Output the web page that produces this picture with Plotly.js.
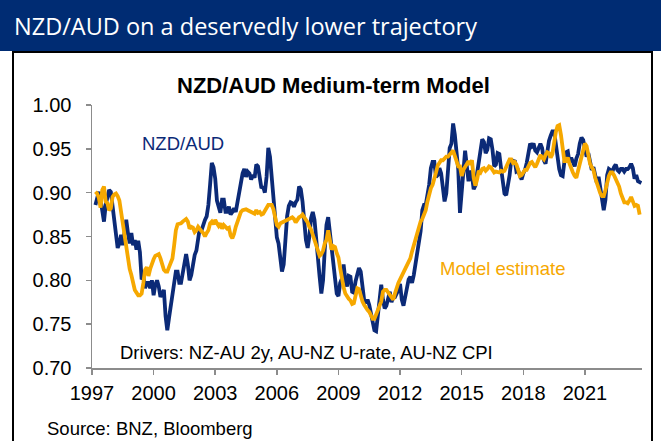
<!DOCTYPE html>
<html>
<head>
<meta charset="utf-8">
<script src="https://cdn.plot.ly/plotly-3.0.1.min.js"></script>
<style>
  html, body { margin: 0; padding: 0; background: #ffffff; }
  #chart { width: 661px; height: 441px; }
</style>
</head>
<body>
<div id="chart"></div>
<script>
// ---- data (monthly, first observation March 1997) ----
const startYear = 1997;
const startMonth = 3;

const nzdaud = [
  0.886, 0.892, 0.901, 0.892, 0.878, 0.867, 0.886, 0.897, 0.903, 0.901,
  0.886, 0.867, 0.857, 0.837, 0.842, 0.852, 0.840, 0.854, 0.869, 0.854,
  0.842, 0.854, 0.840, 0.846, 0.835, 0.845, 0.832, 0.801, 0.804, 0.791,
  0.797, 0.797, 0.791, 0.800, 0.783, 0.795, 0.800, 0.793, 0.781, 0.785,
  0.789, 0.759, 0.743, 0.757, 0.770, 0.787, 0.799, 0.810, 0.810, 0.797,
  0.797, 0.808, 0.823, 0.830, 0.818, 0.800, 0.806, 0.818, 0.829, 0.834,
  0.848, 0.860, 0.857, 0.865, 0.869, 0.873, 0.886, 0.909, 0.934, 0.929,
  0.916, 0.891, 0.882, 0.877, 0.892, 0.892, 0.878, 0.878, 0.884, 0.875,
  0.878, 0.882, 0.878, 0.890, 0.903, 0.909, 0.922, 0.927, 0.918, 0.924,
  0.922, 0.915, 0.920, 0.917, 0.932, 0.930, 0.920, 0.905, 0.907, 0.900,
  0.918, 0.951, 0.941, 0.918, 0.883, 0.863, 0.849, 0.842, 0.827, 0.810,
  0.818, 0.852, 0.873, 0.885, 0.889, 0.888, 0.884, 0.889, 0.892, 0.907,
  0.904, 0.890, 0.867, 0.846, 0.837, 0.850, 0.871, 0.878, 0.869, 0.844,
  0.823, 0.804, 0.785, 0.800, 0.835, 0.863, 0.872, 0.854, 0.835, 0.820,
  0.804, 0.785, 0.782, 0.797, 0.802, 0.818, 0.801, 0.793, 0.805, 0.804,
  0.787, 0.786, 0.799, 0.806, 0.814, 0.810, 0.791, 0.778, 0.774, 0.778,
  0.772, 0.762, 0.754, 0.743, 0.742, 0.763, 0.785, 0.795, 0.778, 0.768,
  0.771, 0.782, 0.787, 0.775, 0.781, 0.781, 0.785, 0.789, 0.796, 0.778,
  0.771, 0.782, 0.791, 0.801, 0.804, 0.797, 0.806, 0.818, 0.835, 0.844,
  0.856, 0.880, 0.886, 0.886, 0.897, 0.909, 0.928, 0.935, 0.935, 0.918,
  0.920, 0.928, 0.922, 0.901, 0.890, 0.899, 0.932, 0.951, 0.956, 0.979,
  0.966, 0.943, 0.926, 0.877, 0.896, 0.924, 0.948, 0.928, 0.913, 0.925,
  0.920, 0.904, 0.908, 0.922, 0.937, 0.953, 0.961, 0.958, 0.945, 0.949,
  0.962, 0.961, 0.949, 0.930, 0.932, 0.945, 0.944, 0.928, 0.913, 0.899,
  0.897, 0.908, 0.920, 0.938, 0.935, 0.937, 0.924, 0.925, 0.919, 0.915,
  0.922, 0.926, 0.934, 0.949, 0.956, 0.953, 0.956, 0.948, 0.946, 0.951,
  0.956, 0.951, 0.937, 0.933, 0.947, 0.959, 0.965, 0.970, 0.970, 0.954,
  0.937, 0.927, 0.920, 0.919, 0.935, 0.946, 0.947, 0.935, 0.940, 0.934,
  0.930, 0.939, 0.944, 0.956, 0.963, 0.960, 0.949, 0.941, 0.945, 0.934,
  0.926, 0.929, 0.920, 0.911, 0.918, 0.906, 0.892, 0.880, 0.892, 0.920,
  0.927, 0.926, 0.924, 0.929, 0.932, 0.926, 0.924, 0.927, 0.927, 0.924,
  0.927, 0.927, 0.929, 0.933, 0.928, 0.916, 0.920, 0.913, 0.912, 0.911
];

const modelEstimate = [
  0.901, 0.899, 0.894, 0.883, 0.903, 0.907, 0.890, 0.888, 0.880, 0.882,
  0.895, 0.898, 0.899, 0.896, 0.891, 0.878, 0.863, 0.846, 0.834, 0.822,
  0.813, 0.806, 0.795, 0.789, 0.786, 0.783, 0.783, 0.785, 0.797, 0.812,
  0.815, 0.805, 0.813, 0.820, 0.824, 0.828, 0.829, 0.830, 0.825, 0.818,
  0.812, 0.810, 0.810, 0.815, 0.821, 0.825, 0.840, 0.857, 0.864, 0.864,
  0.865, 0.867, 0.868, 0.870, 0.867, 0.859, 0.861, 0.860, 0.855, 0.857,
  0.861, 0.858, 0.856, 0.854, 0.850, 0.854, 0.857, 0.865, 0.867, 0.864,
  0.869, 0.865, 0.862, 0.865, 0.859, 0.863, 0.861, 0.859, 0.860, 0.851,
  0.848, 0.853, 0.861, 0.867, 0.873, 0.878, 0.880, 0.881, 0.881, 0.880,
  0.879, 0.878, 0.877, 0.876, 0.880, 0.877, 0.878, 0.875, 0.876, 0.880,
  0.884, 0.886, 0.886, 0.886, 0.881, 0.869, 0.863, 0.861, 0.865, 0.866,
  0.867, 0.867, 0.868, 0.870, 0.871, 0.872, 0.870, 0.866, 0.869, 0.872,
  0.873, 0.875, 0.872, 0.869, 0.866, 0.861, 0.858, 0.852, 0.845, 0.840,
  0.833, 0.828, 0.830, 0.834, 0.842, 0.846, 0.857, 0.847, 0.835, 0.839,
  0.838, 0.831, 0.826, 0.814, 0.800, 0.792, 0.785, 0.781, 0.779, 0.777,
  0.773, 0.774, 0.784, 0.791, 0.790, 0.782, 0.776, 0.772, 0.768, 0.766,
  0.764, 0.760, 0.756, 0.756, 0.761, 0.765, 0.769, 0.776, 0.787, 0.789,
  0.789, 0.786, 0.782, 0.780, 0.778, 0.785, 0.793, 0.797, 0.801, 0.805,
  0.810, 0.812, 0.816, 0.820, 0.825, 0.833, 0.840, 0.845, 0.852, 0.860,
  0.867, 0.870, 0.874, 0.880, 0.890, 0.899, 0.905, 0.909, 0.915, 0.923,
  0.931, 0.935, 0.937, 0.937, 0.939, 0.941, 0.941, 0.943, 0.945, 0.948,
  0.942, 0.934, 0.930, 0.930, 0.919, 0.926, 0.930, 0.934, 0.936, 0.932,
  0.937, 0.917, 0.908, 0.915, 0.925, 0.923, 0.927, 0.928, 0.925, 0.927,
  0.930, 0.929, 0.925, 0.923, 0.924, 0.924, 0.923, 0.925, 0.924, 0.925,
  0.929, 0.934, 0.938, 0.938, 0.934, 0.935, 0.932, 0.926, 0.919, 0.920,
  0.924, 0.926, 0.926, 0.930, 0.934, 0.935, 0.931, 0.929, 0.933, 0.939,
  0.943, 0.940, 0.938, 0.943, 0.946, 0.945, 0.940, 0.944, 0.958, 0.969,
  0.976, 0.977, 0.966, 0.949, 0.936, 0.936, 0.940, 0.933, 0.927, 0.923,
  0.919, 0.917, 0.925, 0.933, 0.941, 0.946, 0.956, 0.953, 0.941, 0.933,
  0.929, 0.926, 0.917, 0.910, 0.902, 0.899, 0.896, 0.896, 0.903, 0.913,
  0.919, 0.923, 0.923, 0.920, 0.916, 0.913, 0.907, 0.899, 0.893, 0.889,
  0.889, 0.888, 0.891, 0.895, 0.890, 0.885, 0.886, 0.885, 0.875
];

const xTickYears = [1997, 2000, 2003, 2006, 2009, 2012, 2015, 2018, 2021];
const yTickValues = [0.70, 0.75, 0.80, 0.85, 0.90, 0.95, 1.00];

// ---- build month positions (decimal years) ----
function monthsFrom(n) {
  const out = [];
  for (let i = 0; i < n; i++) out.push(startYear + (startMonth - 1 + i) / 12);
  return out;
}

// ---- pixel helpers for layout positions ----
const W = 661, H = 441;
const M = { l: 92, r: 19, t: 105, b: 73 };
const PW = W - M.l - M.r, PH = H - M.t - M.b;
const xp = px => (px - M.l) / PW;
const yp = py => (H - M.b - py) / PH;

const NAVY = '#0b2a77';
const GOLD = '#f6a800';
const AX = '#8c8c8c';
const FONT = 'Liberation Sans, Arial, sans-serif';

const traces = [
  { x: monthsFrom(nzdaud.length), y: nzdaud, type: 'scatter', mode: 'lines',
    line: { color: NAVY, width: 3.8 }, hoverinfo: 'skip', name: 'NZD/AUD' },
  { x: monthsFrom(modelEstimate.length), y: modelEstimate, type: 'scatter', mode: 'lines',
    line: { color: GOLD, width: 3.8 }, hoverinfo: 'skip', name: 'Model estimate' }
];

const layout = {
  width: W, height: H,
  margin: { l: M.l, r: M.r, t: M.t, b: M.b, pad: 0 },
  paper_bgcolor: '#ffffff', plot_bgcolor: '#ffffff',
  showlegend: false,
  font: { family: FONT, color: '#000000' },
  xaxis: {
    range: [1997, 2023.78], tickvals: xTickYears, ticktext: xTickYears.map(String),
    showline: true, linecolor: AX, linewidth: 1.5, ticks: 'outside', ticklen: 5,
    tickcolor: AX, tickwidth: 1.5, showgrid: false, zeroline: false,
    tickfont: { family: FONT, size: 20, color: '#000' }, ticklabelstandoff: 1, fixedrange: true
  },
  yaxis: {
    range: [0.70, 1.00], tickvals: yTickValues, ticktext: yTickValues.map(v => v.toFixed(2)),
    showline: true, linecolor: AX, linewidth: 1.5, ticks: 'outside', ticklen: 5,
    tickcolor: AX, tickwidth: 1.5, showgrid: false, zeroline: false,
    tickfont: { family: FONT, size: 20, color: '#000' }, ticklabelstandoff: 10, fixedrange: true
  },
  shapes: [
    { type: 'rect', xref: 'paper', yref: 'paper', layer: 'below',
      x0: xp(0), x1: xp(W), y0: yp(51), y1: yp(0),
      fillcolor: '#002c73', line: { width: 0 } },
    { type: 'rect', xref: 'paper', yref: 'paper', layer: 'below',
      x0: xp(13), x1: xp(652), y0: yp(H + 10), y1: yp(52),
      fillcolor: 'rgba(0,0,0,0)', line: { color: '#000000', width: 2 } }
  ],
  annotations: [
    { text: 'NZD/AUD on a deservedly lower trajectory', xref: 'paper', yref: 'paper',
      x: xp(12), y: yp(26), xanchor: 'left', yanchor: 'middle', showarrow: false,
      font: { family: 'Open Sans, Noto Sans, sans-serif', size: 23.5, color: '#ffffff' } },
    { text: '<b>NZD/AUD Medium-term Model</b>', xref: 'paper', yref: 'paper',
      x: xp(333), y: yp(85), xanchor: 'center', yanchor: 'middle', showarrow: false,
      font: { family: FONT, size: 22, color: '#000000' } },
    { text: 'NZD/AUD', xref: 'paper', yref: 'paper',
      x: xp(140), y: yp(143.5), xanchor: 'left', yanchor: 'middle', showarrow: false,
      font: { family: FONT, size: 18.5, color: NAVY } },
    { text: 'Model estimate', xref: 'paper', yref: 'paper',
      x: xp(438), y: yp(268.5), xanchor: 'left', yanchor: 'middle', showarrow: false,
      font: { family: FONT, size: 18.5, color: GOLD } },
    { text: 'Drivers: NZ-AU 2y, AU-NZ U-rate, AU-NZ CPI', xref: 'paper', yref: 'paper',
      x: xp(118), y: yp(352), xanchor: 'left', yanchor: 'middle', showarrow: false,
      font: { family: FONT, size: 18.5, color: '#000000' } },
    { text: 'Source: BNZ, Bloomberg', xref: 'paper', yref: 'paper',
      x: xp(45), y: yp(428), xanchor: 'left', yanchor: 'middle', showarrow: false,
      font: { family: FONT, size: 18.5, color: '#000000' } }
  ]
};

Plotly.newPlot('chart', traces, layout, { staticPlot: true, displayModeBar: false });
</script>
</body>
</html>
